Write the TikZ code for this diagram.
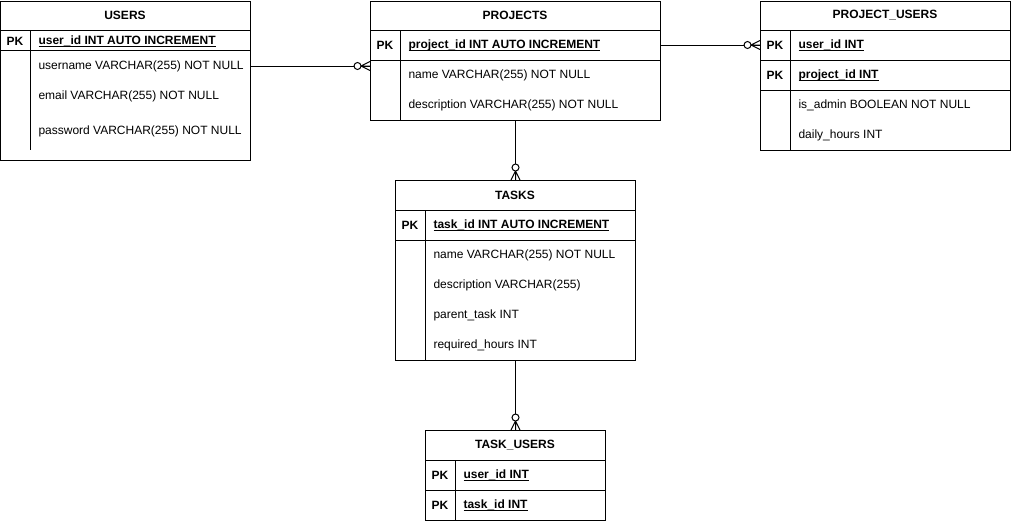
\documentclass[tikz,border=0pt]{standalone}
\usepackage{fontspec}
\setmainfont{Liberation Sans}
\usetikzlibrary{decorations.markings}
\newcommand{\mypkul}[1]{{\setbox0\hbox{#1}\rlap{\rule[-2.6pt]{\wd0}{0.9pt}}\box0}}
\begin{document}
\begin{tikzpicture}[x=1pt,y=-1pt,
  font=\fontsize{12}{14}\selectfont,
  line width=1pt,
  tbl/.style={draw, anchor=north west, inner sep=0pt, fill=white},
  hdr/.style={inner sep=0pt, font=\fontsize{12}{14}\selectfont\bfseries},
  pk/.style={inner sep=0pt, font=\fontsize{12}{14}\selectfont\bfseries},
  pkf/.style={inner sep=0pt, anchor=west, font=\fontsize{12}{14}\selectfont\bfseries},
  fld/.style={inner sep=0pt, anchor=west},
  conn/.style={draw, line width=1pt},
  zeromany/.style={postaction={decorate}, decoration={markings,
    mark=at position 1 with {
      \draw[line width=1pt] (-9,0) -- (0,4.5) (-9,0) -- (0,-4.5) (-9,0) -- (0,0);
      \draw[line width=1pt, fill=white] (-12.5,0) circle (3.5);
    }}}
]
\useasboundingbox[fill=white] (0,0) rectangle (1011,522);

% USERS
\node[tbl, minimum width=250pt, minimum height=159pt] (users) at (0,1) {};
\draw (0,30) -- (250,30) (0,50) -- (250,50) (30,30) -- (30,150);
\node[hdr] (users-h) at (125,15) {USERS};
\node[pk] (users-pk) at (15,41) {PK};
\node[pkf] (users-pkf) at (38,41) {\mypkul{user\_id INT AUTO INCREMENT}};
\node[fld] (users-f1) at (38,66) {username VARCHAR(255) NOT NULL};
\node[fld] (users-f2) at (38,96) {email VARCHAR(255) NOT NULL};
\node[fld] (users-f3) at (38,131) {password VARCHAR(255) NOT NULL};

% PROJECTS
\node[tbl, minimum width=290pt, minimum height=119pt] (projects) at (370,1) {};
\draw (370,30) -- (660,30) (370,60) -- (660,60) (400,30) -- (400,120);
\node[hdr] (projects-h) at (515,15) {PROJECTS};
\node[pk] (projects-pk) at (385,45) {PK};
\node[pkf] (projects-pkf) at (408,45) {\mypkul{project\_id INT AUTO INCREMENT}};
\node[fld] (projects-f1) at (408,75) {name VARCHAR(255) NOT NULL};
\node[fld] (projects-f2) at (408,105) {description VARCHAR(255) NOT NULL};

% PROJECT_USERS
\node[tbl, minimum width=250pt, minimum height=149pt] (pu) at (760,1) {};
\draw (760,30) -- (1010,30) (760,60) -- (1010,60) (760,90) -- (1010,90) (790,30) -- (790,150);
\node[hdr] (pu-h) at (885,15) {PROJECT\_USERS};
\node[pk] (pu-pk1) at (775,45) {PK};
\node[pkf] (pu-pkf1) at (798,45) {\mypkul{user\_id INT}};
\node[pk] (pu-pk2) at (775,75) {PK};
\node[pkf] (pu-pkf2) at (798,75) {\mypkul{project\_id INT}};
\node[fld] (pu-f1) at (798,105) {is\_admin BOOLEAN NOT NULL};
\node[fld] (pu-f2) at (798,135) {daily\_hours INT};

% TASKS
\node[tbl, minimum width=240pt, minimum height=180pt] (tasks) at (395,180) {};
\draw (395,210) -- (635,210) (395,240) -- (635,240) (425,210) -- (425,360);
\node[hdr] (tasks-h) at (515,195) {TASKS};
\node[pk] (tasks-pk) at (410,225) {PK};
\node[pkf] (tasks-pkf) at (433,225) {\mypkul{task\_id INT AUTO INCREMENT}};
\node[fld] (tasks-f1) at (433,255) {name VARCHAR(255) NOT NULL};
\node[fld] (tasks-f2) at (433,285) {description VARCHAR(255)};
\node[fld] (tasks-f3) at (433,315) {parent\_task INT};
\node[fld] (tasks-f4) at (433,345) {required\_hours INT};

% TASK_USERS
\node[tbl, minimum width=180pt, minimum height=90pt] (tu) at (425,430) {};
\draw (425,460) -- (605,460) (425,490) -- (605,490) (455,460) -- (455,520);
\node[hdr] (tu-h) at (515,445) {TASK\_USERS};
\node[pk] (tu-pk1) at (440,475) {PK};
\node[pkf] (tu-pkf1) at (463,475) {\mypkul{user\_id INT}};
\node[pk] (tu-pk2) at (440,505) {PK};
\node[pkf] (tu-pkf2) at (463,505) {\mypkul{task\_id INT}};

% Connectors
\draw[conn, zeromany] (users.east |- users-f1) -- (projects.west |- users-f1);
\draw[conn, zeromany] (projects.east |- projects-pk) -- (pu.west |- projects-pk);
\draw[conn, zeromany] (projects.south) -- (tasks.north);
\draw[conn, zeromany] (tasks.south) -- (tu.north);
\end{tikzpicture}
\end{document}
